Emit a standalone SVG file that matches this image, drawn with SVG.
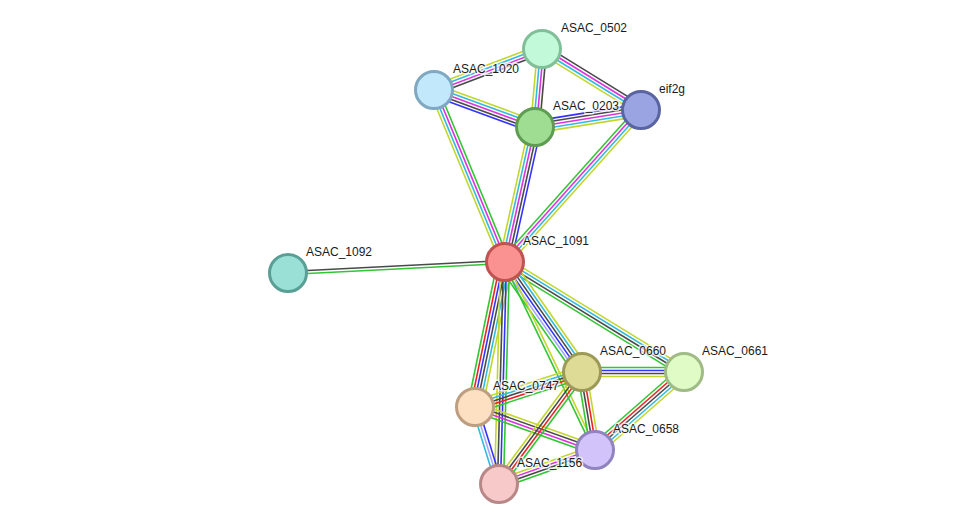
<svg xmlns="http://www.w3.org/2000/svg" width="976" height="530" viewBox="0 0 976 530">
<style>
line{stroke-width:1.6;fill:none}
.g{stroke:#33c633}.r{stroke:#ee2222}.b{stroke:#3333ff}.k{stroke:#4a4a4a}.c{stroke:#33bbdd}.m{stroke:#dd33dd}.y{stroke:#c2d72e}.l{stroke:#a6a6ff}
circle{stroke-width:3}
text{font-family:"Liberation Sans",Arial,sans-serif;font-size:12px;fill:#1a1a1a;stroke:#fff;stroke-width:3;stroke-opacity:0.75;paint-order:stroke;stroke-linejoin:round}
</style>
<rect width="976" height="530" fill="#fff"/>
<g id="edges">
<g id="e-1020-0502">
<line class="y" x1="434" y1="90" x2="542" y2="49" transform="translate(-1.59 -4.2)"/>
<line class="c" x1="434" y1="90" x2="542" y2="49" transform="translate(-0.53 -1.4)"/>
<line class="m" x1="434" y1="90" x2="542" y2="49" transform="translate(0.53 1.4)"/>
<line class="k" x1="434" y1="90" x2="542" y2="49" transform="translate(1.59 4.2)"/>
</g>
<g id="e-1020-0203">
<line class="y" x1="434" y1="90" x2="535" y2="127" transform="translate(2.06 -5.61)"/>
<line class="c" x1="434" y1="90" x2="535" y2="127" transform="translate(1.02 -2.81)"/>
<line class="m" x1="434" y1="90" x2="535" y2="127"/>
<line class="k" x1="434" y1="90" x2="535" y2="127" transform="translate(-1.02 2.81)"/>
<line class="b" x1="434" y1="90" x2="535" y2="127" transform="translate(-2.06 5.61)"/>
</g>
<g id="e-1020-1091">
<line class="y" x1="434" y1="90" x2="505" y2="262" transform="translate(-4.14 1.71)"/>
<line class="c" x1="434" y1="90" x2="505" y2="262" transform="translate(-1.38 0.58)"/>
<line class="m" x1="434" y1="90" x2="505" y2="262" transform="translate(1.38 -0.58)"/>
<line class="g" x1="434" y1="90" x2="505" y2="262" transform="translate(4.14 -1.71)"/>
</g>
<g id="e-0502-0203">
<line class="y" x1="542" y1="49" x2="535" y2="127" transform="translate(-4.46 -0.4)"/>
<line class="c" x1="542" y1="49" x2="535" y2="127" transform="translate(-1.48 -0.14)"/>
<line class="m" x1="542" y1="49" x2="535" y2="127" transform="translate(1.48 0.14)"/>
<line class="k" x1="542" y1="49" x2="535" y2="127" transform="translate(4.46 0.4)"/>
</g>
<g id="e-0502-eif2g">
<line class="k" x1="542" y1="49" x2="641" y2="110" transform="translate(2.36 -3.82)"/>
<line class="m" x1="542" y1="49" x2="641" y2="110" transform="translate(0.78 -1.28)"/>
<line class="c" x1="542" y1="49" x2="641" y2="110" transform="translate(-0.78 1.28)"/>
<line class="y" x1="542" y1="49" x2="641" y2="110" transform="translate(-2.36 3.82)"/>
</g>
<g id="e-0203-eif2g">
<line class="b" x1="535" y1="127" x2="641" y2="110" transform="translate(-0.94 -5.9)"/>
<line class="k" x1="535" y1="127" x2="641" y2="110" transform="translate(-0.47 -2.96)"/>
<line class="m" x1="535" y1="127" x2="641" y2="110"/>
<line class="c" x1="535" y1="127" x2="641" y2="110" transform="translate(0.47 2.96)"/>
<line class="y" x1="535" y1="127" x2="641" y2="110" transform="translate(0.94 5.9)"/>
</g>
<g id="e-0203-1091">
<line class="y" x1="535" y1="127" x2="505" y2="262" transform="translate(-5.84 -1.3)"/>
<line class="c" x1="535" y1="127" x2="505" y2="262" transform="translate(-2.92 -0.64)"/>
<line class="m" x1="535" y1="127" x2="505" y2="262"/>
<line class="k" x1="535" y1="127" x2="505" y2="262" transform="translate(2.92 0.64)"/>
<line class="b" x1="535" y1="127" x2="505" y2="262" transform="translate(5.84 1.3)"/>
</g>
<g id="e-eif2g-1091">
<line class="g" x1="641" y1="110" x2="505" y2="262" transform="translate(-3.35 -2.99)"/>
<line class="m" x1="641" y1="110" x2="505" y2="262" transform="translate(-1.12 -1)"/>
<line class="c" x1="641" y1="110" x2="505" y2="262" transform="translate(1.12 1)"/>
<line class="y" x1="641" y1="110" x2="505" y2="262" transform="translate(3.35 2.99)"/>
</g>
<g id="e-1092-1091">
<line class="k" x1="288" y1="273" x2="505" y2="262" transform="translate(-0.08 -1.5)"/>
<line class="g" x1="288" y1="273" x2="505" y2="262" transform="translate(0.08 1.5)"/>
</g>
<g id="e-1091-0661">
<line class="y" x1="505" y1="262" x2="684" y2="372" transform="translate(2.35 -3.82)"/>
<line class="c" x1="505" y1="262" x2="684" y2="372" transform="translate(0.78 -1.28)"/>
<line class="k" x1="505" y1="262" x2="684" y2="372" transform="translate(-0.78 1.28)"/>
<line class="g" x1="505" y1="262" x2="684" y2="372" transform="translate(-2.35 3.82)"/>
</g>
<g id="e-1091-0660">
<line class="g" x1="505" y1="262" x2="582" y2="372" transform="translate(-6.12 4.28)"/>
<line class="l" x1="505" y1="262" x2="582" y2="372" transform="translate(-3.67 2.56)"/>
<line class="b" x1="505" y1="262" x2="582" y2="372" transform="translate(-1.22 0.85)"/>
<line class="k" x1="505" y1="262" x2="582" y2="372" transform="translate(1.22 -0.85)"/>
<line class="c" x1="505" y1="262" x2="582" y2="372" transform="translate(3.67 -2.56)"/>
<line class="y" x1="505" y1="262" x2="582" y2="372" transform="translate(6.12 -4.28)"/>
</g>
<g id="e-1091-0658">
<line class="g" x1="505" y1="262" x2="595" y2="450" transform="translate(-1.35 0.64)"/>
<line class="y" x1="505" y1="262" x2="595" y2="450" transform="translate(1.35 -0.64)"/>
</g>
<g id="e-1091-0747">
<line class="g" x1="505" y1="262" x2="475" y2="407" transform="translate(-7.31 -1.52)"/>
<line class="r" x1="505" y1="262" x2="475" y2="407" transform="translate(-4.39 -0.91)"/>
<line class="b" x1="505" y1="262" x2="475" y2="407" transform="translate(-1.46 -0.3)"/>
<line class="k" x1="505" y1="262" x2="475" y2="407" transform="translate(1.46 0.3)"/>
<line class="c" x1="505" y1="262" x2="475" y2="407" transform="translate(4.39 0.91)"/>
<line class="y" x1="505" y1="262" x2="475" y2="407" transform="translate(7.31 1.52)"/>
</g>
<g id="e-1091-1156">
<line class="y" x1="505" y1="262" x2="499" y2="484" transform="translate(-4.49 -0.12)"/>
<line class="k" x1="505" y1="262" x2="499" y2="484" transform="translate(-1.5 -0.05)"/>
<line class="b" x1="505" y1="262" x2="499" y2="484" transform="translate(1.5 0.05)"/>
<line class="g" x1="505" y1="262" x2="499" y2="484" transform="translate(4.49 0.12)"/>
</g>
<g id="e-0747-0660">
<line class="y" x1="475" y1="407" x2="582" y2="372" transform="translate(-1.86 -5.68)"/>
<line class="c" x1="475" y1="407" x2="582" y2="372" transform="translate(-0.93 -2.84)"/>
<line class="k" x1="475" y1="407" x2="582" y2="372"/>
<line class="r" x1="475" y1="407" x2="582" y2="372" transform="translate(0.93 2.84)"/>
<line class="g" x1="475" y1="407" x2="582" y2="372" transform="translate(1.86 5.68)"/>
</g>
<g id="e-0747-0658">
<line class="y" x1="475" y1="407" x2="595" y2="450" transform="translate(1.51 -4.22)"/>
<line class="k" x1="475" y1="407" x2="595" y2="450" transform="translate(0.51 -1.4)"/>
<line class="m" x1="475" y1="407" x2="595" y2="450" transform="translate(-0.51 1.4)"/>
<line class="g" x1="475" y1="407" x2="595" y2="450" transform="translate(-1.51 4.22)"/>
</g>
<g id="e-0747-1156">
<line class="c" x1="475" y1="407" x2="499" y2="484" transform="translate(-2.85 0.89)"/>
<line class="l" x1="475" y1="407" x2="499" y2="484"/>
<line class="b" x1="475" y1="407" x2="499" y2="484" transform="translate(2.85 -0.89)"/>
</g>
<g id="e-0660-0661">
<line class="g" x1="582" y1="372" x2="684" y2="372" transform="translate(0 -4.49)"/>
<line class="b" x1="582" y1="372" x2="684" y2="372" transform="translate(0 -1.5)"/>
<line class="k" x1="582" y1="372" x2="684" y2="372" transform="translate(0 1.5)"/>
<line class="y" x1="582" y1="372" x2="684" y2="372" transform="translate(0 4.49)"/>
</g>
<g id="e-0660-0658">
<line class="g" x1="582" y1="372" x2="595" y2="450" transform="translate(-4.43 0.74)"/>
<line class="k" x1="582" y1="372" x2="595" y2="450" transform="translate(-1.47 0.24)"/>
<line class="r" x1="582" y1="372" x2="595" y2="450" transform="translate(1.47 -0.24)"/>
<line class="y" x1="582" y1="372" x2="595" y2="450" transform="translate(4.43 -0.74)"/>
</g>
<g id="e-0660-1156">
<line class="y" x1="582" y1="372" x2="499" y2="484" transform="translate(-3.6 -2.67)"/>
<line class="k" x1="582" y1="372" x2="499" y2="484" transform="translate(-1.2 -0.89)"/>
<line class="r" x1="582" y1="372" x2="499" y2="484" transform="translate(1.2 0.89)"/>
<line class="g" x1="582" y1="372" x2="499" y2="484" transform="translate(3.6 2.67)"/>
</g>
<g id="e-0661-0658">
<line class="g" x1="684" y1="372" x2="595" y2="450" transform="translate(-3.94 -4.5)"/>
<line class="r" x1="684" y1="372" x2="595" y2="450" transform="translate(-1.97 -2.25)"/>
<line class="k" x1="684" y1="372" x2="595" y2="450"/>
<line class="c" x1="684" y1="372" x2="595" y2="450" transform="translate(1.97 2.25)"/>
<line class="y" x1="684" y1="372" x2="595" y2="450" transform="translate(3.94 4.5)"/>
</g>
<g id="e-0658-1156">
<line class="y" x1="595" y1="450" x2="499" y2="484" transform="translate(-1.5 -4.23)"/>
<line class="m" x1="595" y1="450" x2="499" y2="484" transform="translate(-0.49 -1.41)"/>
<line class="k" x1="595" y1="450" x2="499" y2="484" transform="translate(0.49 1.41)"/>
<line class="g" x1="595" y1="450" x2="499" y2="484" transform="translate(1.5 4.23)"/>
</g>
</g>
<g id="n-ASAC_0502"><circle cx="542" cy="49" r="18.5" fill="#c2f9d9" stroke="#80bf98"/><text x="561" y="32">ASAC_0502</text></g>
<g id="n-ASAC_1020"><circle cx="434" cy="90" r="18.5" fill="#c2e8fb" stroke="#80a8c0"/><text x="453" y="73">ASAC_1020</text></g>
<g id="n-ASAC_0203"><circle cx="535" cy="127" r="18.5" fill="#9fdd93" stroke="#5e9c52"/><text x="553" y="110">ASAC_0203</text></g>
<g id="n-eif2g"><circle cx="641" cy="110" r="18.5" fill="#9aa4e2" stroke="#5a64a0"/><text x="659" y="93">eif2g</text></g>
<g id="n-ASAC_1091"><circle cx="505" cy="262" r="18.5" fill="#fa9292" stroke="#c05252"/><text x="523" y="245">ASAC_1091</text></g>
<g id="n-ASAC_1092"><circle cx="288" cy="273" r="18.5" fill="#9ae0d6" stroke="#5a9f96"/><text x="306" y="256">ASAC_1092</text></g>
<g id="n-ASAC_0660"><circle cx="582" cy="372" r="18.5" fill="#dddb96" stroke="#9c9a56"/><text x="600" y="355">ASAC_0660</text></g>
<g id="n-ASAC_0661"><circle cx="684" cy="372" r="18.5" fill="#e1fbc7" stroke="#a0bb86"/><text x="702" y="355">ASAC_0661</text></g>
<g id="n-ASAC_0747"><circle cx="475" cy="407" r="18.5" fill="#fddfc2" stroke="#bd9e80"/><text x="493" y="390">ASAC_0747</text></g>
<g id="n-ASAC_0658"><circle cx="595" cy="450" r="18.5" fill="#d2c4fb" stroke="#9183c0"/><text x="613" y="433">ASAC_0658</text></g>
<g id="n-ASAC_1156"><circle cx="499" cy="484" r="18.5" fill="#f8c9c9" stroke="#b88888"/><text x="517" y="467">ASAC_1156</text></g>
</svg>
